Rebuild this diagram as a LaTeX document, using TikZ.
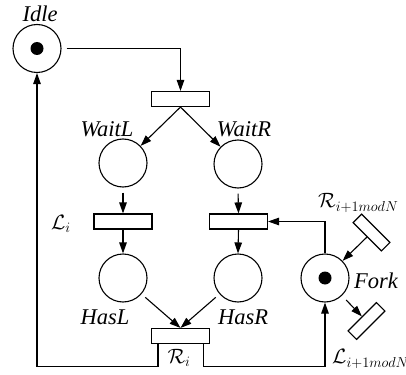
\documentclass[tikz,border=0pt]{standalone}
\usepackage{fontspec}
\setmainfont{Liberation Serif}
\newfontfamily\labelfont{Liberation Serif}
\usetikzlibrary{arrows.meta,calc}
\begin{document}
\begin{tikzpicture}[x=1pt,y=-1pt,
  place/.style={circle,draw,line width=1.1pt,minimum size=48pt,inner sep=0pt},
  trans/.style={rectangle,draw,line width=1.1pt,minimum width=58pt,minimum height=15pt,inner sep=0pt},
  strans/.style={rectangle,draw,line width=1.1pt,minimum width=40pt,minimum height=12pt,inner sep=0pt},
  token/.style={circle,fill=black,minimum size=13pt,inner sep=0pt},
  arc/.style={line width=1.1pt,-{Triangle[length=11pt,width=7.5pt]}},
  lbl/.style={font=\labelfont\fontsize{22.5}{26}\selectfont\itshape,inner sep=0pt},
  mlbl/.style={font=\fontsize{21}{25}\selectfont,inner sep=0pt}]
\useasboundingbox (0,0) rectangle (406,374);
% places
\node[place] (idle) at (37,48.5) {};
\node[token] (idletok) at (37,48.5) {};
\node[place] (waitl) at (123,163) {};
\node[place] (waitr) at (238,164) {};
\node[place] (hasl) at (123,278) {};
\node[place] (hasr) at (238,278) {};
\node[place] (fork) at (325,278) {};
\node[token] (forktok) at (325,278) {};
% transitions
\node[trans] (t1) at (180.5,99) {};
\node[trans] (li) at (123,221.5) {};
\node[trans] (rt) at (238.5,221.5) {};
\node[trans] (ri) at (180.5,336) {};
\node[strans,rotate=-45] (ut) at (371.5,232.5) {};
\node[strans,rotate=45] (lt) at (366.5,321) {};
% labels
\node[lbl] (lidle) at (40,14) {Idle};
\node[lbl] (lwaitl) at (107,129) {WaitL};
\node[lbl] (lwaitr) at (244,129) {WaitR};
\node[lbl] (lhasl) at (105,317) {HasL};
\node[lbl] (lhasr) at (243,317) {HasR};
\node[lbl] (lfork) at (376,281) {Fork};
\node[mlbl] (lli) at (61,224) {$\mathcal{L}_i$};
\node[mlbl] (lri) at (179,358) {$\mathcal{R}_i$};
\node[mlbl,anchor=west] (lrn) at (318,203) {$\mathcal{R}_{i+1 mod N}$};
\node[mlbl,anchor=west] (lln) at (332,359) {$\mathcal{L}_{i+1 mod N}$};
% arcs
\draw[arc,shorten <=5pt] (idle.east) -| (t1.north);
\draw[arc] (t1.south) -- (waitl);
\draw[arc] (t1.south) -- (waitr);
\draw[arc,shorten <=5pt] (waitl.south) -- (li.north);
\draw[arc,shorten <=5pt] (waitr.south) -- (rt.north);
\draw[arc] (li.south) -- (hasl.north);
\draw[arc] (rt.south) -- (hasr.north);
\draw[arc,shorten <=5pt] (hasl) -- (ri.north);
\draw[arc,shorten <=5pt] (hasr) -- (ri.north);
\draw[arc] ([xshift=7pt]ri.south west) -- ++(0,22) -| (idle.south);
\draw[arc] ([xshift=-7pt]ri.south east) -- ++(0,22) -| (fork.south);
\draw[arc] (fork.north) |- (rt.east);
\draw[arc] (ut.south) -- (fork);
\draw[arc,shorten <=6pt] (fork) -- (lt.north);
\end{tikzpicture}
\end{document}
